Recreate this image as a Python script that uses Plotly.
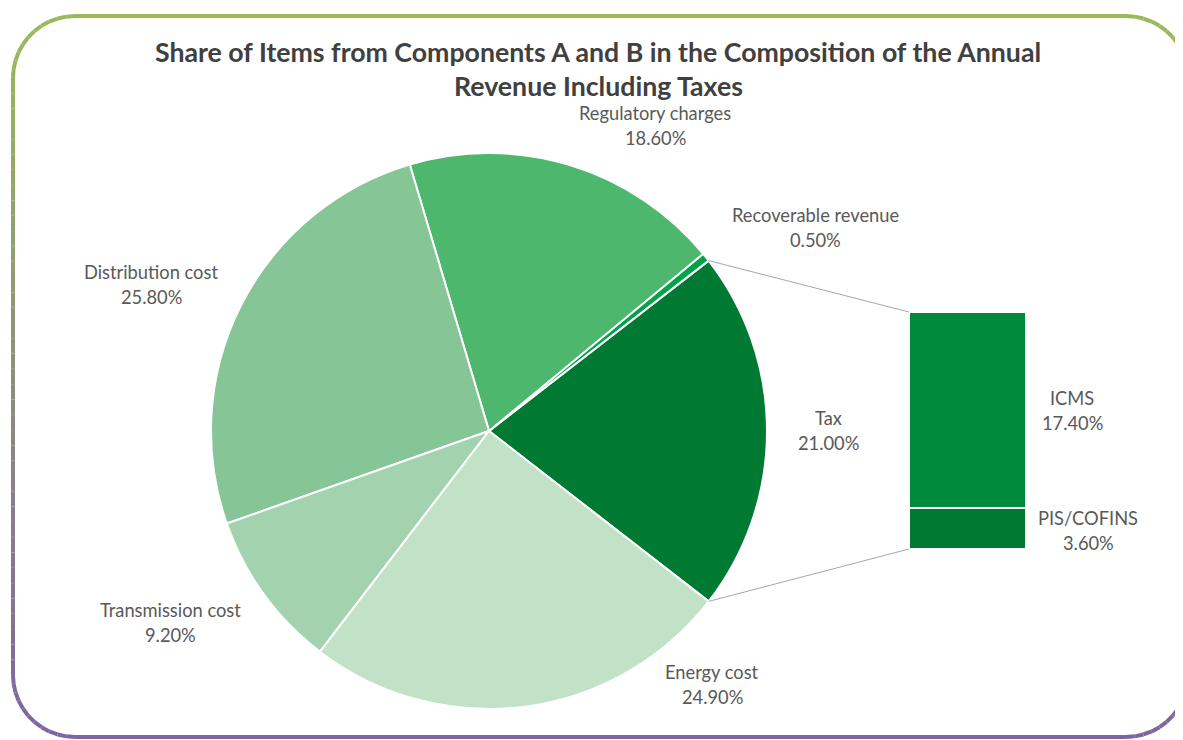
import numpy as np
import plotly.graph_objects as go

# ---------------- data ----------------
pie_labels = ["Tax", "Recoverable revenue", "Regulatory charges",
              "Distribution cost", "Transmission cost", "Energy cost"]
pie_values = [21.0, 0.5, 18.6, 25.8, 9.2, 24.9]
pie_colors = ["#007A33", "#00A24A", "#4EB76E", "#85C596", "#A3D3AE", "#C2E2C8"]

bar_labels = ["PIS/COFINS", "ICMS"]
bar_values = [3.6, 17.4]
bar_colors = ["#007A33", "#008A3C"]

title_lines = ["Share of Items from Components A and B in the Composition of the Annual",
               "Revenue Including Taxes"]

# ---------------- layout helpers (pixels -> paper) ----------------
OFF = 8  # page body margin
W, H = 1183, 740
def px(x): return (x - OFF) / W
def py(y): return 1 - (y - OFF) / H

FONT = "Lato"
LABEL_COLOR = "#595959"

fig = go.Figure()

# Pie geometry (pixels)
cx, cy, r = 489, 431, 278
tax_share = pie_values[0]
half = tax_share / 100 * 180.0  # half-angle of the Tax slice in degrees

fig.add_trace(go.Pie(
    labels=pie_labels, values=pie_values, sort=False,
    direction="counterclockwise", rotation=90 - half,
    marker=dict(colors=pie_colors, line=dict(color="white", width=2)),
    textinfo="none", hoverinfo="label+percent", showlegend=False,
    domain=dict(x=[px(cx - r), px(cx + r)], y=[py(cy + r), py(cy - r)]),
))

# Bar of pie
bx0, bx1, by_top, by_bot = 909, 1026, 312, 549
for lab, val, col in zip(bar_labels, bar_values, bar_colors):
    fig.add_trace(go.Bar(
        x=[0], y=[val], name=lab, width=1,
        marker=dict(color=col, line=dict(color="white", width=2)),
        showlegend=False, xaxis="x", yaxis="y", hoverinfo="name+y",
    ))

fig.update_layout(
    barmode="stack",
    xaxis=dict(domain=[px(bx0), px(bx1)], range=[-0.5, 0.5], visible=False, fixedrange=True),
    yaxis=dict(domain=[py(by_bot), py(by_top)], range=[0, sum(bar_values)], visible=False, fixedrange=True),
)

shapes = []
# connector lines
th = np.radians(half)
p_top = (cx + r * np.cos(th), cy - r * np.sin(th))
p_bot = (cx + r * np.cos(th), cy + r * np.sin(th))
for (x0, y0), (x1, y1) in [(p_top, (bx0, by_top)), (p_bot, (bx0, by_bot))]:
    shapes.append(dict(type="line", xref="paper", yref="paper",
                       x0=px(x0), y0=py(y0), x1=px(x1), y1=py(y1),
                       line=dict(color="#A6A6A6", width=1)))

# gradient rounded border
L, R, T, B, rad = 13, 1188, 16, 737, 62
c_top = np.array([155, 187, 89])
c_bot = np.array([128, 100, 162])
def col_at(y):
    t = np.clip((y - T) / (B - T), 0, 1)
    c = c_top + (c_bot - c_top) * t
    return "rgb(%d,%d,%d)" % tuple(c.astype(int))

pts = []
def arc(cxx, cyy, a0, a1, n=12):
    for a in np.linspace(a0, a1, n):
        pts.append((cxx + rad * np.cos(np.radians(a)), cyy + rad * np.sin(np.radians(a))))
arc(L + rad, T + rad, 180, 270)
arc(R - rad, T + rad, 270, 360)
for yy in np.linspace(T + rad, B - rad, 40)[1:-1]:
    pts.append((R, yy))
arc(R - rad, B - rad, 0, 90)
arc(L + rad, B - rad, 90, 180)
for yy in np.linspace(B - rad, T + rad, 40)[1:-1]:
    pts.append((L, yy))
pts.append(pts[0])
for (x0, y0), (x1, y1) in zip(pts[:-1], pts[1:]):
    shapes.append(dict(type="line", xref="paper", yref="paper",
                       x0=px(x0), y0=py(y0), x1=px(x1), y1=py(y1),
                       line=dict(color=col_at((y0 + y1) / 2), width=4)))

# ---------------- annotations ----------------
ann = []
def two_line(x, y1, y2, l1, l2, size=18.3):
    for yy, t in [(y1, l1), (y2, l2)]:
        ann.append(dict(x=px(x), y=py(yy), xref="paper", yref="paper", text=t,
                        showarrow=False, xanchor="center", yanchor="middle",
                        font=dict(family=FONT, size=size, color=LABEL_COLOR)))

pie_label_pos = [(828, 418), (815, 215), (655, 113), (151, 272), (170, 610), (712, 672)]
for lab, val, (x, y) in zip(pie_labels, pie_values, pie_label_pos):
    two_line(x, y, y + 25, lab, f"{val:.2f}%")
bar_label_pos = [(1088, 518), (1072, 398)]
for lab, val, (x, y) in zip(bar_labels, bar_values, bar_label_pos):
    two_line(x, y, y + 25, lab, f"{val:.2f}%")

for yy, t in zip([52, 86], title_lines):
    ann.append(dict(x=px(598), y=py(yy), xref="paper", yref="paper", text="<b>%s</b>" % t,
                    showarrow=False, xanchor="center", yanchor="middle",
                    font=dict(family=FONT, size=26.7, color="#404040")))

fig.update_layout(
    width=W, height=H, margin=dict(l=0, r=0, t=0, b=0),
    paper_bgcolor="white", plot_bgcolor="rgba(0,0,0,0)",
    shapes=shapes, annotations=ann, showlegend=False,
)

fig.write_html("out.html")
